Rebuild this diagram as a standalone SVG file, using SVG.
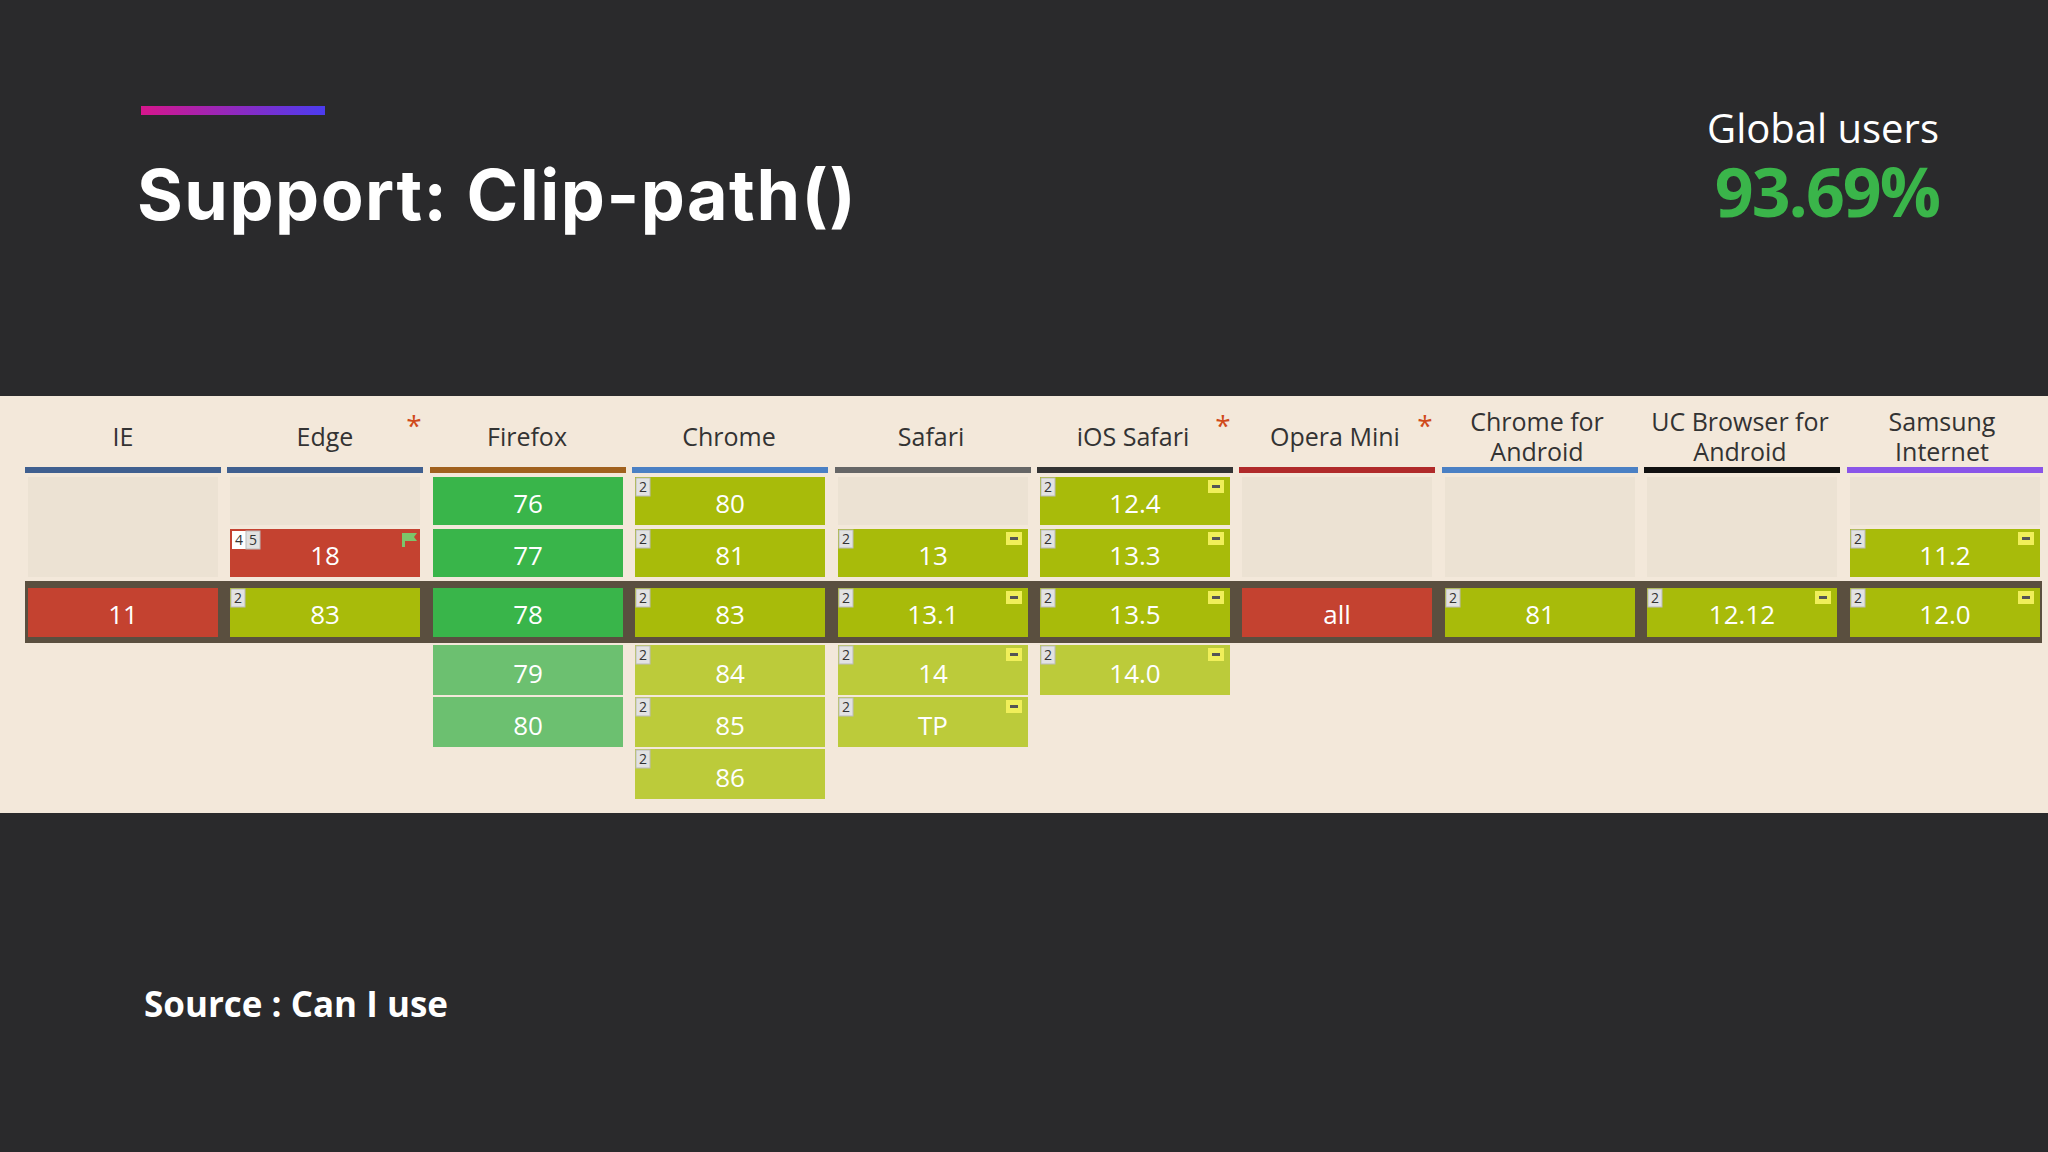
<svg xmlns="http://www.w3.org/2000/svg" width="2048" height="1152" viewBox="0 0 2048 1152">
<defs>
<linearGradient id="acc" x1="0" x2="1"><stop offset="0" stop-color="#d6168c"/><stop offset="1" stop-color="#4b3cf0"/></linearGradient>
<style>
.h{font-family:"Open Sans","Noto Sans",sans-serif;font-size:25px;fill:#333;text-anchor:middle}
.v{font-family:"Open Sans","Noto Sans",sans-serif;font-size:26px;fill:#fff;text-anchor:middle}
.n{font-family:"Open Sans","Noto Sans",sans-serif;font-size:14px;fill:#333}
.nb{fill:#e2e2e2;stroke:#bbb;stroke-width:1}
.g{fill:#39b54a}.lg{fill:#6cc070}.y{fill:#a8bb0a}.ly{fill:#bccb3a}.r{fill:#c44230}.e{fill:#ece2d3}
.ast{font-family:"Open Sans",sans-serif;font-size:28px;fill:#d04a1a;text-anchor:middle}
</style>
<g id="mi"><rect width="16" height="13" fill="#f0ef5a"/><rect x="4" y="5" width="8" height="3" fill="#555"/></g>
<g id="two"><rect width="14" height="18" class="nb"/><text x="3" y="14" class="n">2</text></g>
</defs>
<rect width="2048" height="1152" fill="#2a2a2c"/>
<rect x="141" y="106" width="184" height="9" fill="url(#acc)"/>
<text x="137" y="220" font-family="Inter,'Open Sans',sans-serif" font-weight="700" font-size="70" letter-spacing="1.5" fill="#fff">Support: Clip-path()</text>
<text x="1939" y="143" font-family="'Open Sans',sans-serif" font-size="40" fill="#fff" text-anchor="end">Global users</text>
<text x="1939" y="217" font-family="'Open Sans',sans-serif" font-weight="700" font-size="68" fill="#3ab54a" text-anchor="end" letter-spacing="-2">93.69%</text>
<text x="144" y="1017" font-family="'Open Sans',sans-serif" font-weight="700" font-size="35" fill="#fff">Source : Can I use</text>
<rect x="0" y="396" width="2048" height="417" fill="#f3e8da"/>
<g id="headers">
<text x="123" y="446" class="h">IE</text>
<text x="325" y="446" class="h">Edge</text><text x="414" y="436" class="ast">*</text>
<text x="527" y="446" class="h">Firefox</text>
<text x="729" y="446" class="h">Chrome</text>
<text x="931" y="446" class="h">Safari</text>
<text x="1133" y="446" class="h">iOS Safari</text><text x="1223" y="436" class="ast">*</text>
<text x="1335" y="446" class="h">Opera Mini</text><text x="1425" y="436" class="ast">*</text>
<text x="1537" y="431" class="h">Chrome for</text><text x="1537" y="461" class="h">Android</text>
<text x="1740" y="431" class="h">UC Browser for</text><text x="1740" y="461" class="h">Android</text>
<text x="1942" y="431" class="h">Samsung</text><text x="1942" y="461" class="h">Internet</text>
<rect x="25" y="467" width="196" height="6" fill="#3f5f8f"/>
<rect x="227" y="467" width="196" height="6" fill="#3f5f8f"/>
<rect x="430" y="467" width="196" height="6" fill="#a0611e"/>
<rect x="632" y="467" width="196" height="6" fill="#4a80c4"/>
<rect x="835" y="467" width="196" height="6" fill="#666"/>
<rect x="1037" y="467" width="196" height="6" fill="#333"/>
<rect x="1239" y="467" width="196" height="6" fill="#b02a2a"/>
<rect x="1442" y="467" width="196" height="6" fill="#4a80c4"/>
<rect x="1644" y="467" width="196" height="6" fill="#111"/>
<rect x="1847" y="467" width="196" height="6" fill="#8a55e8"/>
</g>
<rect x="25" y="581" width="2017" height="62" fill="#5a4f3f"/>
<g id="empty">
<rect x="28" y="477" width="190" height="100" class="e"/>
<rect x="230" y="477" width="190" height="48" class="e"/>
<rect x="838" y="477" width="190" height="48" class="e"/>
<rect x="1242" y="477" width="190" height="100" class="e"/>
<rect x="1445" y="477" width="190" height="100" class="e"/>
<rect x="1647" y="477" width="190" height="100" class="e"/>
<rect x="1850" y="477" width="190" height="48" class="e"/>
</g>
<g id="ie"><rect x="28" y="588" width="190" height="49" class="r"/><text x="123" y="624" class="v">11</text></g>
<g id="edge">
<rect x="230" y="529" width="190" height="48" class="r"/><text x="325" y="565" class="v">18</text>
<rect x="232" y="531" width="14" height="18" fill="#fff"/><text x="235" y="545" class="n">4</text>
<rect x="246" y="531" width="14" height="18" class="nb"/><text x="249" y="545" class="n">5</text>
<rect x="402" y="533" width="3" height="14" fill="#7cc66a"/><path d="M405 533h12l-3 4 3 4h-12z" fill="#7cc66a"/>
<rect x="230" y="588" width="190" height="49" class="y"/><text x="325" y="624" class="v">83</text><use href="#two" x="231" y="589"/>
</g>
<g id="firefox">
<rect x="433" y="477" width="190" height="48" class="g"/><text x="528" y="513" class="v">76</text>
<rect x="433" y="529" width="190" height="48" class="g"/><text x="528" y="565" class="v">77</text>
<rect x="433" y="588" width="190" height="49" class="g"/><text x="528" y="624" class="v">78</text>
<rect x="433" y="645" width="190" height="50" class="lg"/><text x="528" y="683" class="v">79</text>
<rect x="433" y="697" width="190" height="50" class="lg"/><text x="528" y="735" class="v">80</text>
</g>
<g id="chrome">
<rect x="635" y="477" width="190" height="48" class="y"/><text x="730" y="513" class="v">80</text><use href="#two" x="636" y="478"/>
<rect x="635" y="529" width="190" height="48" class="y"/><text x="730" y="565" class="v">81</text><use href="#two" x="636" y="530"/>
<rect x="635" y="588" width="190" height="49" class="y"/><text x="730" y="624" class="v">83</text><use href="#two" x="636" y="589"/>
<rect x="635" y="645" width="190" height="50" class="ly"/><text x="730" y="683" class="v">84</text><use href="#two" x="636" y="646"/>
<rect x="635" y="697" width="190" height="50" class="ly"/><text x="730" y="735" class="v">85</text><use href="#two" x="636" y="698"/>
<rect x="635" y="749" width="190" height="50" class="ly"/><text x="730" y="787" class="v">86</text><use href="#two" x="636" y="750"/>
</g>
<g id="safari">
<rect x="838" y="529" width="190" height="48" class="y"/><text x="933" y="565" class="v">13</text><use href="#two" x="839" y="530"/><use href="#mi" x="1006" y="532"/>
<rect x="838" y="588" width="190" height="49" class="y"/><text x="933" y="624" class="v">13.1</text><use href="#two" x="839" y="589"/><use href="#mi" x="1006" y="591"/>
<rect x="838" y="645" width="190" height="50" class="ly"/><text x="933" y="683" class="v">14</text><use href="#two" x="839" y="646"/><use href="#mi" x="1006" y="648"/>
<rect x="838" y="697" width="190" height="50" class="ly"/><text x="933" y="735" class="v">TP</text><use href="#two" x="839" y="698"/><use href="#mi" x="1006" y="700"/>
</g>
<g id="ios">
<rect x="1040" y="477" width="190" height="48" class="y"/><text x="1135" y="513" class="v">12.4</text><use href="#two" x="1041" y="478"/><use href="#mi" x="1208" y="480"/>
<rect x="1040" y="529" width="190" height="48" class="y"/><text x="1135" y="565" class="v">13.3</text><use href="#two" x="1041" y="530"/><use href="#mi" x="1208" y="532"/>
<rect x="1040" y="588" width="190" height="49" class="y"/><text x="1135" y="624" class="v">13.5</text><use href="#two" x="1041" y="589"/><use href="#mi" x="1208" y="591"/>
<rect x="1040" y="645" width="190" height="50" class="ly"/><text x="1135" y="683" class="v">14.0</text><use href="#two" x="1041" y="646"/><use href="#mi" x="1208" y="648"/>
</g>
<g id="opera"><rect x="1242" y="588" width="190" height="49" class="r"/><text x="1337" y="624" class="v">all</text></g>
<g id="chromeandroid"><rect x="1445" y="588" width="190" height="49" class="y"/><text x="1540" y="624" class="v">81</text><use href="#two" x="1446" y="589"/></g>
<g id="uc"><rect x="1647" y="588" width="190" height="49" class="y"/><text x="1742" y="624" class="v">12.12</text><use href="#two" x="1648" y="589"/><use href="#mi" x="1815" y="591"/></g>
<g id="samsung">
<rect x="1850" y="529" width="190" height="48" class="y"/><text x="1945" y="565" class="v">11.2</text><use href="#two" x="1851" y="530"/><use href="#mi" x="2018" y="532"/>
<rect x="1850" y="588" width="190" height="49" class="y"/><text x="1945" y="624" class="v">12.0</text><use href="#two" x="1851" y="589"/><use href="#mi" x="2018" y="591"/>
</g>
<g id="connectors"/>
</svg>
